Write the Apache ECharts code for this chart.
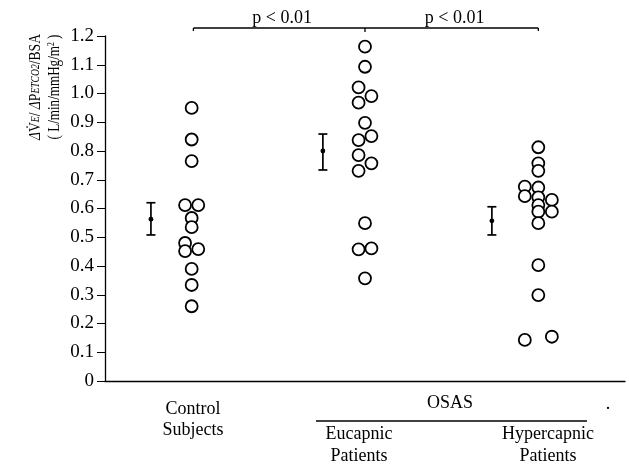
<!DOCTYPE html>
<html>
<head>
<meta charset="utf-8">
<script src="https://cdn.jsdelivr.net/npm/echarts@6/dist/echarts.min.js"></script>
<style>
  html, body { margin: 0; background: #fff; }
  #main { width: 629px; height: 470px; }
</style>
</head>
<body>
<div id="main"></div>
<script>
// groups on the x axis
var groups = ['Control Subjects', 'Eucapnic Patients', 'Hypercapnic Patients'];

// each point: [value, side]  side -1 = left of column, 0 = centre, 1 = right
var control = [[0.95, 0], [0.84, 0], [0.765, 0], [0.612, -1], [0.612, 1], [0.567, 0], [0.535, 0],
  [0.48, -1], [0.452, -1], [0.459, 1], [0.39, 0], [0.334, 0], [0.26, 0]];
var eucapnic = [[1.163, 0], [1.093, 0], [1.021, -1], [0.991, 1], [0.968, -1], [0.898, 0], [0.852, 1],
  [0.838, -1], [0.786, -1], [0.757, 1], [0.731, -1], [0.549, 0], [0.458, -1], [0.461, 1], [0.357, 0]];
var hypercapnic = [[0.813, 0], [0.757, 0], [0.731, 0], [0.676, -1], [0.673, 0], [0.643, -1], [0.639, 0],
  [0.630, 1], [0.612, 0], [0.589, 0], [0.589, 1], [0.549, 0], [0.403, 0], [0.299, 0], [0.143, -1], [0.154, 1]];

// mean and error bar
var means = [0.563, 0.80, 0.557];
var lower = [0.508, 0.734, 0.508];
var upper = [0.62, 0.859, 0.606];

var yMin = 0, yMax = 1.2, yStep = 0.1;

var serif = 'Liberation Serif';
var sideStep = [0.038, 0.037, 0.078];   // column spread, in category widths
var errShift = [-0.235, -0.243, -0.268]; // error bar left of column

function pts(list, g) {
  return list.map(function (p) { return [g + 0.5 + p[1] * sideStep[g], p[0]]; });
}

var circle = {
  type: 'scatter', xAxisIndex: 1, symbol: 'circle', symbolSize: 12,
  itemStyle: { color: '#fff', borderColor: '#000', borderWidth: 1.8, opacity: 1 },
  emphasis: { disabled: true }, z: 3
};

var errData = means.map(function (m, i) { return [i + 0.5 + errShift[i], m, lower[i], upper[i]]; });

var chart = echarts.init(document.getElementById('main'));
chart.setOption({
  animation: false,
  backgroundColor: '#fff',
  textStyle: { fontFamily: serif, color: '#000' },
  grid: { left: 105, right: 4, top: 36, bottom: 89 },
  xAxis: [{
    type: 'category', data: groups, boundaryGap: true,
    axisLine: { lineStyle: { color: '#000', width: 1.3 } },
    axisTick: { alignWithLabel: true, length: 4, lineStyle: { color: '#000' } },
    axisLabel: { show: false }, splitLine: { show: false }
  }, {
    type: 'value', min: 0, max: 3, show: false
  }],
  yAxis: {
    type: 'value', min: yMin, max: yMax, interval: yStep,
    axisLine: { show: true, lineStyle: { color: '#000', width: 1.3 } },
    axisTick: { show: true, length: 8, lineStyle: { color: '#000' } },
    splitLine: { show: false },
    axisLabel: {
      color: '#000', fontFamily: serif, fontSize: 19, margin: 11,
      formatter: function (v) { return v === 0 ? '0' : v.toFixed(1); }
    }
  },
  series: [
    Object.assign({ data: pts(control, 0) }, circle),
    Object.assign({ data: pts(eucapnic, 1) }, circle),
    Object.assign({ data: pts(hypercapnic, 2) }, circle),
    {
      type: 'custom', xAxisIndex: 1, data: errData, z: 4,
      renderItem: function (params, api) {
        var c = api.coord([api.value(0), api.value(1)]);
        var lo = api.coord([api.value(0), api.value(2)]);
        var hi = api.coord([api.value(0), api.value(3)]);
        var st = { stroke: '#000', lineWidth: 1.7 };
        return {
          type: 'group', children: [
            { type: 'line', shape: { x1: c[0], y1: lo[1], x2: c[0], y2: hi[1] }, style: st },
            { type: 'line', shape: { x1: c[0] - 4.5, y1: lo[1], x2: c[0] + 4.5, y2: lo[1] }, style: st },
            { type: 'line', shape: { x1: c[0] - 4.5, y1: hi[1], x2: c[0] + 4.5, y2: hi[1] }, style: st },
            { type: 'circle', shape: { cx: c[0], cy: c[1], r: 2.4 }, style: { fill: '#000' } }
          ]
        };
      }
    }
  ]
});

// annotations: significance bracket, group labels, y title
var x0 = chart.convertToPixel({ xAxisIndex: 1 }, 0.5 + 0.01);
var x1 = chart.convertToPixel({ xAxisIndex: 1 }, 1.5);
var x2 = chart.convertToPixel({ xAxisIndex: 1 }, 2.5);
var by = 28;
var ln = { stroke: '#000', lineWidth: 1.3 };
var txt = function (x, y, s, extra) {
  return Object.assign({
    type: 'text', x: x, y: y,
    style: { text: s, font: '18px "' + serif + '"', fill: '#000', align: 'center', verticalAlign: 'middle' }
  }, extra || {});
};

chart.setOption({
  graphic: [
    { type: 'line', shape: { x1: x0, y1: by, x2: x2, y2: by }, style: ln },
    { type: 'line', shape: { x1: x0, y1: by, x2: x0, y2: by + 3 }, style: ln },
    { type: 'line', shape: { x1: x2, y1: by, x2: x2, y2: by + 3 }, style: ln },
    { type: 'line', shape: { x1: x1, y1: by, x2: x1, y2: by + 4 }, style: ln },
    txt((x0 + x1) / 2 + 3, 18, 'p < 0.01'),
    txt((x1 + x2) / 2 + 3, 18, 'p < 0.01'),
    txt(193, 409, 'Control'),
    txt(193, 430, 'Subjects'),
    txt(450, 403, 'OSAS'),
    { type: 'line', shape: { x1: 316, y1: 421, x2: 587, y2: 421 }, style: { stroke: '#000', lineWidth: 1.5 } },
    txt(359, 434, 'Eucapnic'),
    txt(359, 456, 'Patients'),
    txt(548, 434, 'Hypercapnic'),
    txt(548, 456, 'Patients'),
    txt(608, 404, '.'),
    {
      type: 'text', x: 36, y: 87, rotation: Math.PI / 2, scaleX: 0.8,
      style: {
        text: '{d|Δ}{a|V̇}{s|E}{a|/ }{d|Δ}{a|P}{s|ETCO2}{a|/BSA}',
        align: 'center', verticalAlign: 'middle',
        rich: {
          a: { fontFamily: serif, fontSize: 17, fill: '#000' },
          d: { fontFamily: serif, fontSize: 17, fontStyle: 'italic', fill: '#000' },
          s: { fontFamily: serif, fontSize: 12, fontStyle: 'italic', fill: '#000' }
        }
      }
    },
    {
      type: 'text', x: 55, y: 87, rotation: Math.PI / 2, scaleX: 0.77,
      style: {
        text: '{a|( L/min/mmHg/m}{u|2}{a| )}',
        align: 'center', verticalAlign: 'middle',
        rich: {
          a: { fontFamily: serif, fontSize: 17, fill: '#000' },
          u: { fontFamily: serif, fontSize: 10, fill: '#000', verticalAlign: 'top', padding: [0, 0, 6, 0] }
        }
      }
    }
  ]
});
</script>
</body>
</html>
